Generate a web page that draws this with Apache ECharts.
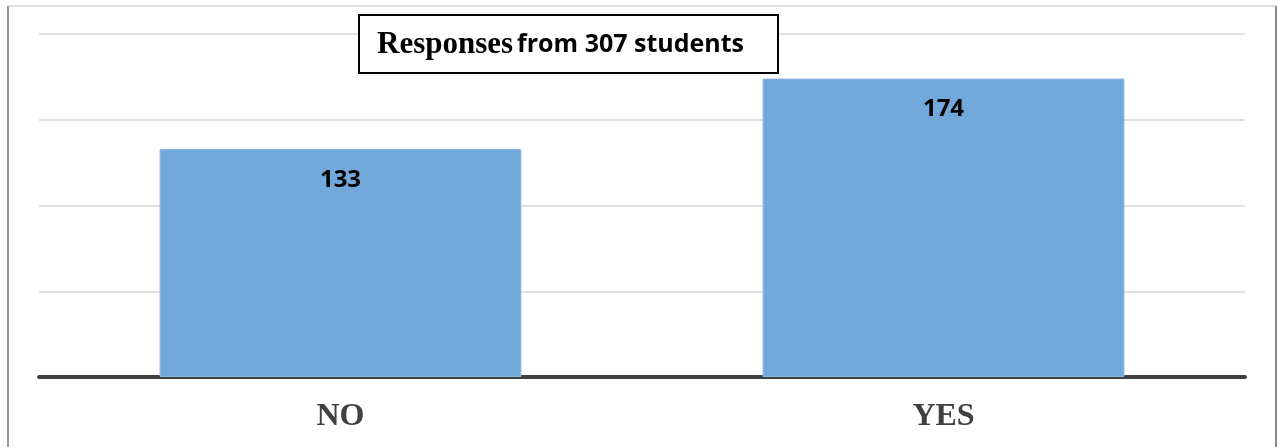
<!DOCTYPE html>
<html>
<head>
<meta charset="utf-8">
<script src="https://cdn.jsdelivr.net/npm/echarts@6/dist/echarts.min.js"></script>
<style>
  html, body { margin: 0; padding: 0; background: #fff; }
  #chart { width: 1277px; height: 447px; }
</style>
</head>
<body>
<div id="chart"></div>
<script>
const categories = ['NO', 'YES']
const responses = [133, 174]
const yTicks = [0, 50, 100, 150, 200]

const myChart = echarts.init(document.getElementById('chart'))
const option = {
  animation: false,
  grid: { left: 39, right: 32, top: 34, bottom: 70 },
  xAxis: {
    type: 'category',
    data: categories,
    axisTick: { show: false },
    axisLine: { lineStyle: { color: '#404040', width: 4 } },
    axisLabel: {
      margin: 24,
      fontFamily: 'Liberation Serif',
      fontWeight: 'bold',
      fontSize: 32,
      color: '#404040'
    }
  },
  yAxis: {
    type: 'value',
    min: yTicks[0],
    max: yTicks[yTicks.length - 1],
    interval: 50,
    axisLabel: { show: false },
    axisLine: { show: false },
    axisTick: { show: false },
    splitLine: { lineStyle: { color: '#e0e0e0', width: 2 } }
  },
  series: [{
    type: 'bar',
    data: responses,
    barWidth: '60%',
    itemStyle: { color: '#72a8da', borderColor: '#86b6e2', borderWidth: 1 },
    label: {
      show: true,
      position: 'insideTop',
      distance: 19,
      fontFamily: 'Open Sans',
      fontWeight: 'bold',
      fontSize: 24,
      color: '#000'
    }
  }],
  graphic: [
    { type: 'line', shape: { x1: 8, y1: 6, x2: 1276, y2: 6 }, style: { stroke: '#d6d6d6', lineWidth: 1.5 } },
    { type: 'line', shape: { x1: 8, y1: 6, x2: 8, y2: 447 }, style: { stroke: '#999', lineWidth: 2 } },
    { type: 'line', shape: { x1: 1276, y1: 6, x2: 1276, y2: 447 }, style: { stroke: '#888', lineWidth: 2 } },
    {
      type: 'rect',
      shape: { x: 359, y: 15, width: 419, height: 58 },
      style: { fill: '#fff', stroke: '#000', lineWidth: 2 },
      z: 100
    },
    {
      type: 'text',
      x: 377,
      y: 45,
      z: 101,
      style: {
        text: '{a|Responses}{b|from 307 students}',
        verticalAlign: 'middle',
        rich: {
          a: { fontFamily: 'Liberation Serif', fontWeight: 'bold', fontSize: 31, fill: '#000', padding: [0, 4, 0, 0] },
          b: { fontFamily: 'Open Sans', fontWeight: 'bold', fontSize: 25, fill: '#000' }
        }
      }
    }
  ]
}
myChart.setOption(option)
</script>
</body>
</html>
